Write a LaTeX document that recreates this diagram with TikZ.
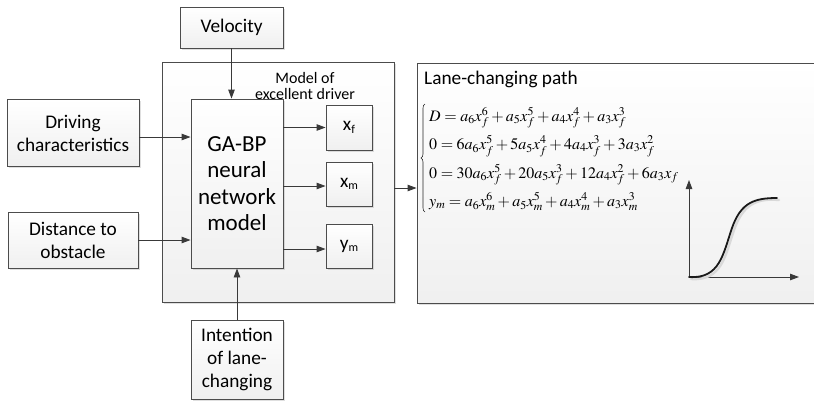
\documentclass[tikz,border=0pt]{standalone}
\usepackage{mathptmx}
\usepackage[no-math]{fontspec}
\setmainfont{Carlito}
\usetikzlibrary{arrows.meta,shadows,decorations.pathreplacing}

\tikzset{
  blk/.style={draw=gray!60!black, line width=0.9pt, top color=white, bottom color=gray!12,
    drop shadow={shadow xshift=1.6pt, shadow yshift=-1.6pt, opacity=0.25, fill=gray},
    align=center, inner sep=0pt, font=\fontsize{19.3}{23}\selectfont},
  flow/.style={draw=gray!45!black, line width=0.9pt, -{Triangle[length=9pt,width=6.5pt]}},
  eqline/.style={anchor=base west, inner sep=0pt, font=\fontsize{16}{20}\selectfont},
}

\begin{document}
\begin{tikzpicture}[x=1pt, y=-1pt]
                \useasboundingbox (0, 0) rectangle (814, 400);

                \node [blk, minimum width=232, minimum height=240] (model) at (278, 182) {};
                \node [blk, minimum width=400, minimum height=240] (lane) at (617, 183) {};

                \node [blk, minimum width=103, minimum height=41] (velocity) at (231.5, 27.5) {Velocity};
                \node [blk, minimum width=132, minimum height=67] (driving) at (73, 133) {Driving\\characteristics};
                \node [blk, minimum width=130, minimum height=56] (distance) at (73, 240) {Distance to\\obstacle};
                \node [blk, minimum width=92, minimum height=79] (intention) at (237, 359.5) {Intention\\of lane-\\changing};

                \node [blk, minimum width=92, minimum height=169, font=\fontsize{23}{26.5}\selectfont] (gabp) at (237, 183.5)
                    {GA-BP\\neural\\network\\model};
                \node [blk, minimum width=46, minimum height=45] (xf) at (349, 127.5) {x\raisebox{-0.25ex}{\fontsize{12}{12}\selectfont f}};
                \node [blk, minimum width=46, minimum height=44] (xm) at (349, 184) {x\raisebox{-0.25ex}{\fontsize{12}{12}\selectfont m}};
                \node [blk, minimum width=46, minimum height=44] (ym) at (349, 246) {y\raisebox{-0.25ex}{\fontsize{12}{12}\selectfont m}};

                \node [align=center, inner sep=0pt, font=\fontsize{16}{16}\selectfont] (modellabel) at (305, 86) {Model of\\excellent driver};
                \node [anchor=base west, inner sep=0pt, font=\fontsize{19.3}{22}\selectfont] (lanelabel) at (424, 84) {Lane-changing path};

                \node [eqline] (eq1) at (429, 121) {$D = a_6x_f^6 + a_5x_f^5 + a_4x_f^4 + a_3x_f^3$};
                \node [eqline] (eq2) at (429, 149.5) {$0 = 6a_6x_f^5 + 5a_5x_f^4 + 4a_4x_f^3 + 3a_3x_f^2$};
                \node [eqline] (eq3) at (429, 178) {$0 = 30a_6x_f^5 + 20a_5x_f^3 + 12a_4x_f^2 + 6a_3x_f$};
                \node [eqline] (eq4) at (429, 206.5) {$y_m = a_6x_m^6 + a_5x_m^5 + a_4x_m^4 + a_3x_m^3$};
                \draw [gray!30!black, line width=0.6pt, decorate, decoration={brace, amplitude=4pt}] (425, 212) to (425, 104);

                \coordinate (origin) at (689, 277);
                \coordinate (ytip) at (689, 180);
                \coordinate (xtip) at (799, 277);
                \coordinate (curveend) at (777, 198);

                \draw [flow] (velocity.south) to (velocity.south |- gabp.north);
                \draw [flow] (intention.north) to (gabp.south);
                \draw [flow] (driving.east |- 0, 137) to (gabp.west |- 0, 137);
                \draw [flow] (distance.east) to (distance.east -| gabp.west);

                \draw [flow] (gabp.east |- xf.west) to (xf.west);
                \draw [flow] (gabp.east |- 0, 186) to (xm.west |- 0, 186);
                \draw [flow] (gabp.east |- 0, 249) to (ym.west |- 0, 249);

                \draw [flow] (model.east |- 0, 188) to (lane.west |- 0, 188);

                \draw [flow] (origin) to (ytip);
                \draw [flow] (origin) to (xtip);
                \draw [gray!30, line width=2.4pt, line cap=round] ([xshift=2pt, yshift=-2pt] origin) .. controls (722, 281) and (725, 256) .. (734, 230)
                    .. controls (743, 204) and (757, 198) .. ([xshift=2pt, yshift=-2pt] curveend);
                \draw [gray!20!black, line width=1.8pt, line cap=round] (origin) .. controls (720, 279) and (723, 254) .. (732, 228)
                    .. controls (741, 202) and (755, 198) .. (curveend);
\end{tikzpicture}
\end{document}
